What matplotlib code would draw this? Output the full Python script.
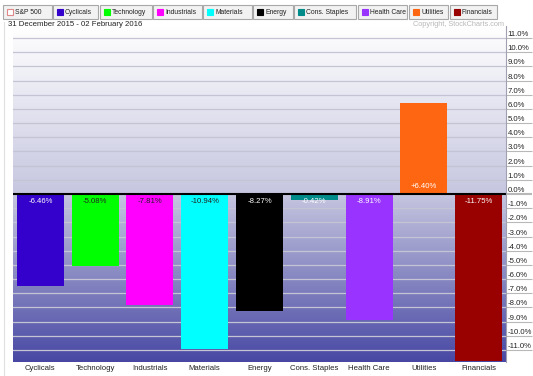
import numpy as np
import matplotlib
matplotlib.use("Agg")
import matplotlib.pyplot as plt
from matplotlib.colors import LinearSegmentedColormap
from matplotlib.patches import Rectangle

plt.rcParams['font.family'] = ['Liberation Sans', 'DejaVu Sans']

# data
sectors = ['Cyclicals', 'Technology', 'Industrials', 'Materials', 'Energy',
           'Cons. Staples', 'Health Care', 'Utilities', 'Financials']
changes = [-6.46, -5.08, -7.81, -10.94, -8.27, -0.42, -8.91, 6.40, -11.75]
bar_colors = ['#3300cc', '#00ff00', '#ff00ff', '#00ffff', '#000000',
              '#008b8b', '#9933ff', '#ff6611', '#990000']
label_colors = ['white', '#222222', '#222222', '#222222', 'white',
                'white', 'white', 'white', 'white']
legend_names = ['S&P 500'] + sectors
legend_colors = ['white'] + bar_colors
yticks = np.arange(-11, 12, 1)

W, H = 533, 376
fig = plt.figure(figsize=(W / 100, H / 100), dpi=100)
fig.patch.set_facecolor('white')


def fx(x):
    return x / W


def fy(y):
    return 1 - y / H


ymin, ymax = -11.85, 11.85
ax = fig.add_axes([fx(13), fy(362), fx(506) - fx(13), fy(26) - fy(362)])

# gradient background
cmap = LinearSegmentedColormap.from_list(
    'bg', [(0, '#4848a4'), (0.5, '#c6c6e0'), (1, '#ffffff')])
grad = np.linspace(0, 1, 256).reshape(-1, 1)
ax.imshow(grad, cmap=cmap, origin='lower', aspect='auto',
          extent=[-0.5, 8.5, ymin, ymax], zorder=0)

x = np.arange(len(sectors))
ax.bar(x, changes, width=0.86, color=bar_colors, zorder=3)
ax.axhline(0, color='black', lw=1.5, zorder=4)

fs = 5.6
for xi, v, lc in zip(x, changes, label_colors):
    txt = f'+{v:.2f}%' if v > 0 else f'{v:.2f}%'
    if v < 0:
        ax.text(xi, -0.25, txt, ha='center', va='top', fontsize=fs, color=lc, zorder=5)
    else:
        ax.text(xi, 0.25, txt, ha='center', va='bottom', fontsize=fs, color=lc, zorder=5)

ax.set_xlim(-0.5, 8.5)
ax.set_ylim(ymin, ymax)
ax.set_yticks(yticks)
ax.set_yticklabels([f'{t:.1f}%' for t in yticks])
ax.yaxis.tick_right()
ax.tick_params(axis='y', length=19, width=0.8, color='#b8b8b8', pad=-18,
               labelsize=fs, labelcolor='#222222')
for lab in ax.get_yticklabels():
    lab.set_va('bottom')
for t, tl in zip(yticks, ax.yaxis.get_ticklines(minor=False)[1::2]):
    if t == 0:
        tl.set_color('black')
        tl.set_markeredgewidth(1.5)
ax.grid(axis='y', color='#c4c4d4', lw=0.9, zorder=1)
ax.set_axisbelow(True)

ax.set_xticks(x)
ax.set_xticklabels(sectors)
ax.tick_params(axis='x', length=0, pad=2, labelsize=fs, labelcolor='#222222')

for side in ['top', 'left', 'bottom']:
    ax.spines[side].set_visible(False)
ax.spines['right'].set_color('#a0a0b0')
ax.spines['right'].set_zorder(6)

# legend row across the top
box_edges = [(3, 52), (53, 98), (100, 152), (153, 202), (203, 252), (253, 293),
             (294, 356), (358, 407), (409, 448), (450, 497)]
for (x0, x1), name, col in zip(box_edges, legend_names, legend_colors):
    fig.add_artist(Rectangle((fx(x0), fy(19)), fx(x1 - x0), 14 / H,
                             transform=fig.transFigure, facecolor='#f2f2f2',
                             edgecolor='#a8a8a8', lw=0.8))
    ec = '#e08888' if name == 'S&P 500' else col
    fig.add_artist(Rectangle((fx(x0 + 4), fy(15)), fx(6), 6 / H,
                             transform=fig.transFigure, facecolor=col,
                             edgecolor=ec, lw=0.8))
    fig.text(fx(x0 + 12), fy(12), name, fontsize=4.9, color='#222222',
             ha='left', va='center')

fig.text(fx(8), fy(25), '31 December 2015 - 02 February 2016', fontsize=fs,
         color='#222222', ha='left', va='center')
fig.text(fx(504), fy(25), 'Copyright, StockCharts.com', fontsize=5.3,
         color='#b8b8b8', ha='right', va='center')
fig.add_artist(plt.Line2D([fx(4), fx(4)], [0, fy(22)], transform=fig.transFigure,
                          color='#e0e0e0', lw=0.8))

fig.savefig('out.png', dpi=100)
